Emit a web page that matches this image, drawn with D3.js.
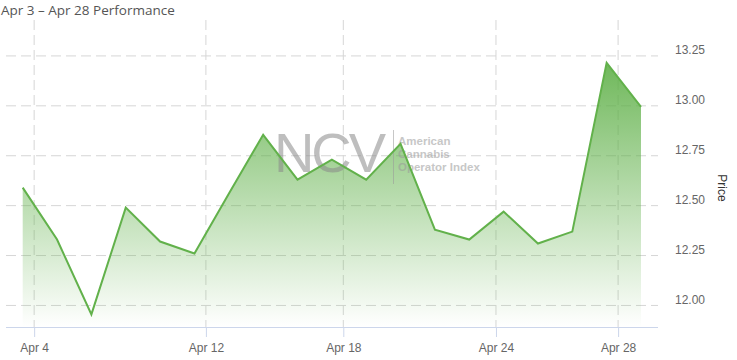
<!DOCTYPE html>
<html>
<head>
<meta charset="utf-8">
<script src="https://cdn.jsdelivr.net/npm/d3@7"></script>
<style>
  body { margin: 0; background: #fff; }
  svg { display: block; }
</style>
</head>
<body>
<svg id="chart" width="737" height="360"></svg>
<script>
// trading days (closing time) and index closes
const days = ['2023-04-03','2023-04-04','2023-04-05','2023-04-06','2023-04-10','2023-04-11',
              '2023-04-12','2023-04-13','2023-04-14','2023-04-17','2023-04-18','2023-04-19',
              '2023-04-20','2023-04-21','2023-04-24','2023-04-25','2023-04-26','2023-04-27','2023-04-28']
const prices = [12.59, 12.33, 11.955, 12.49, 12.32, 12.26,
                12.56, 12.855, 12.63, 12.73, 12.63, 12.81,
                12.38, 12.33, 12.47, 12.31, 12.37, 13.215, 12.995]
const xTickDays = ['2023-04-04','2023-04-12','2023-04-18','2023-04-24','2023-04-28']
const yTicks = [12.00, 12.25, 12.50, 12.75, 13.00, 13.25]
const title = 'Apr 3 \u2013 Apr 28 Performance'

const parseClose = d3.timeParse('%Y-%m-%d %H:%M')
const parseDay = d3.timeParse('%Y-%m-%d')
const data = days.map((d, i) => ({ date: parseClose(d + ' 16:00'), value: prices[i] }))

const plotLeft = 6, plotRight = 658, plotTop = 20, plotBottom = 327

const svg = d3.select('#chart')

// ordinal time axis: each trading day gets equal room
const xIndex = d3.scaleLinear().domain([0, data.length - 1]).range([22.7, 641])
const xScale = d3.scaleTime()
                 .domain(data.map(d => d.date))
                 .range(data.map((d, i) => xIndex(i)))

const yScale = d3.scaleLinear().domain([11.892, 13.43]).range([plotBottom, plotTop])

const gridColor = '#d6d6d6'

// horizontal grid
svg.append('g')
   .selectAll('line')
   .data(yTicks)
   .join('line')
   .attr('x1', plotLeft).attr('x2', plotRight)
   .attr('y1', d => yScale(d)).attr('y2', d => yScale(d))
   .attr('stroke', gridColor)
   .attr('stroke-dasharray', '10,5')

// vertical grid
const xTicks = xTickDays.map(parseDay)
svg.append('g')
   .selectAll('line')
   .data(xTicks)
   .join('line')
   .attr('x1', d => xScale(d)).attr('x2', d => xScale(d))
   .attr('y1', plotTop).attr('y2', plotBottom)
   .attr('stroke', gridColor)
   .attr('stroke-dasharray', '10,5')

// gradient for area
const grad = svg.append('defs').append('linearGradient')
   .attr('id', 'fillGrad')
   .attr('gradientUnits', 'userSpaceOnUse')
   .attr('x1', 0).attr('x2', 0)
   .attr('y1', yScale(d3.max(prices))).attr('y2', plotBottom)
grad.append('stop').attr('offset', 0).attr('stop-color', '#5fb048').attr('stop-opacity', 0.9)
grad.append('stop').attr('offset', 1).attr('stop-color', '#5fb048').attr('stop-opacity', 0.0)

const area = d3.area()
   .x(d => xScale(d.date))
   .y0(plotBottom)
   .y1(d => yScale(d.value))

svg.append('path')
   .attr('d', area(data))
   .attr('fill', 'url(#fillGrad)')

// watermark
const wm = svg.append('g').attr('opacity', 0.55)
wm.append('text')
  .attr('x', 274).attr('y', 172)
  .style('font-family', 'Liberation Sans, Arial, sans-serif')
  .style('font-size', '56px')
  .attr('textLength', 112)
  .attr('fill', '#8a8a8a')
  .text('NCV')
wm.append('line')
  .attr('x1', 393.5).attr('x2', 393.5).attr('y1', 130).attr('y2', 184)
  .attr('stroke', '#9a9a9a')
wm.selectAll('.wmt')
  .data(['American', 'Cannabis', 'Operator Index'])
  .join('text')
  .attr('x', 398)
  .attr('y', (d, i) => 145 + i * 13)
  .style('font-family', 'Liberation Sans, Arial, sans-serif')
  .style('font-size', '11.5px')
  .style('font-weight', 'bold')
  .attr('fill', '#9a9a9a')
  .text(d => d)

const line = d3.line()
   .x(d => xScale(d.date))
   .y(d => yScale(d.value))

svg.append('path')
   .attr('d', line(data))
   .attr('fill', 'none')
   .attr('stroke', '#62b14b')
   .attr('stroke-width', 2)

// x axis
svg.append('line')
   .attr('x1', plotLeft).attr('x2', plotRight)
   .attr('y1', plotBottom + 0.5).attr('y2', plotBottom + 0.5)
   .attr('stroke', '#ccd6eb')

const xAxis = d3.axisBottom(xScale)
   .tickValues(xTicks)
   .tickFormat(d3.timeFormat('%b %-d'))
   .tickSize(10)
   .tickPadding(6.5)

const gx = svg.append('g')
   .attr('transform', `translate(0,${plotBottom})`)
   .call(xAxis)
gx.select('.domain').remove()
gx.selectAll('.tick line').attr('stroke', '#ccd6eb')
gx.selectAll('.tick text')
  .attr('fill', '#666')
  .style('font-family', 'Liberation Sans, Arial, sans-serif')
  .style('font-size', '12px')

// y axis on the right
const yAxis = d3.axisRight(yScale)
   .tickValues(yTicks)
   .tickFormat(d3.format('.2f'))
   .tickSize(0)

const gy = svg.append('g')
   .attr('transform', 'translate(675,0)')
   .call(yAxis)
gy.select('.domain').remove()
gy.selectAll('.tick text')
  .attr('x', 0)
  .attr('dy', '-2')
  .attr('fill', '#666')
  .style('font-family', 'Liberation Sans, Arial, sans-serif')
  .style('font-size', '12px')

svg.append('text')
   .attr('transform', 'translate(718,188) rotate(90)')
   .attr('text-anchor', 'middle')
   .style('font-family', 'Liberation Sans, Arial, sans-serif')
   .style('font-size', '12px')
   .attr('fill', '#333')
   .text('Price')

svg.append('text')
   .attr('x', 1).attr('y', 14.5)
   .style('font-family', 'Open Sans, sans-serif')
   .style('font-size', '13.5px')
   .attr('fill', '#555')
   .text(title)
</script>
</body>
</html>
